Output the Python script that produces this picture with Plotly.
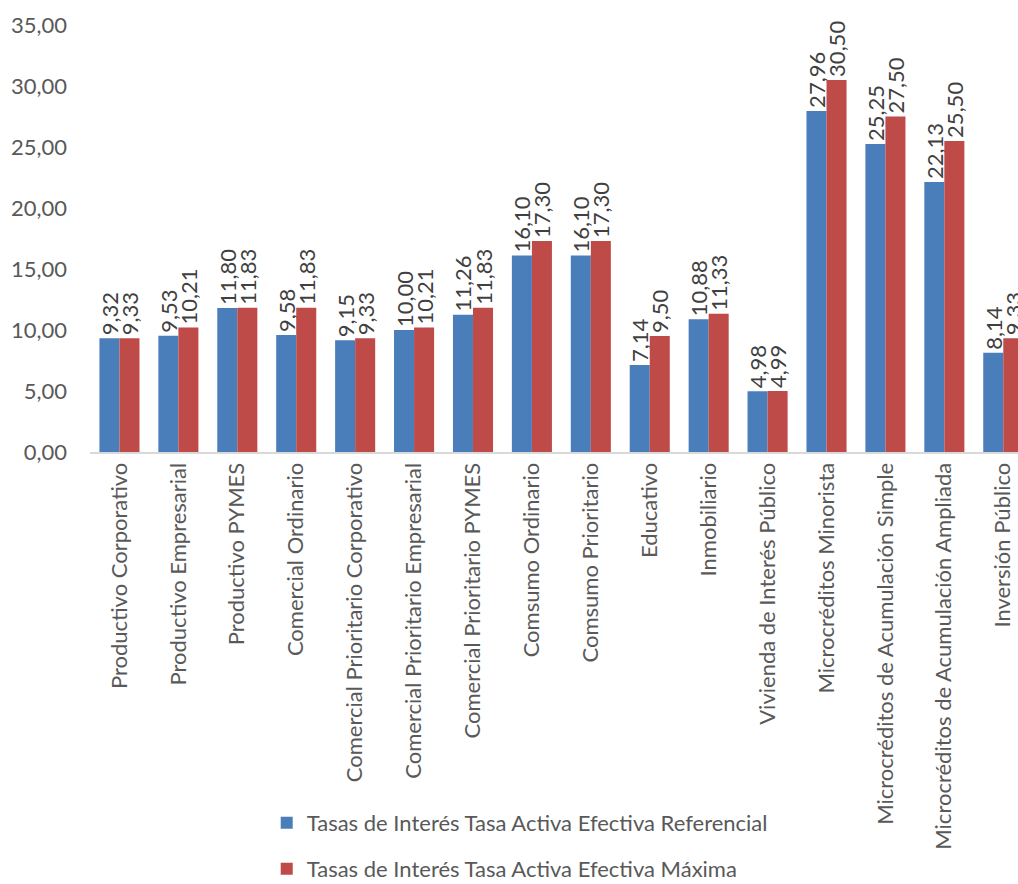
import plotly.graph_objects as go

categories = [
    "Productivo Corporativo", "Productivo Empresarial", "Productivo PYMES",
    "Comercial Ordinario", "Comercial Prioritario Corporativo",
    "Comercial Prioritario Empresarial", "Comercial Prioritario PYMES",
    "Comsumo Ordinario", "Comsumo Prioritario", "Educativo", "Inmobiliario",
    "Vivienda de Interés Público", "Microcréditos Minorista",
    "Microcréditos de Acumulación Simple", "Microcréditos de Acumulación Ampliada",
    "Inversión Público",
]
referencial = [9.32, 9.53, 11.80, 9.58, 9.15, 10.00, 11.26, 16.10, 16.10, 7.14,
               10.88, 4.98, 27.96, 25.25, 22.13, 8.14]
maxima = [9.33, 10.21, 11.83, 11.83, 9.33, 10.21, 11.83, 17.30, 17.30, 9.50,
          11.33, 4.99, 30.50, 27.50, 25.50, 9.33]
series_names = ["Tasas de Interés Tasa Activa Efectiva Referencial",
                "Tasas de Interés Tasa Activa Efectiva Máxima"]
y_ticks = [0, 5, 10, 15, 20, 25, 30, 35]

FONT = "Lato"
TXT = "#595959"
FS = 22


def fmt(v):
    return f"{v:.2f}".replace(".", ",")


fig = go.Figure()
for name, vals, col, leg in [(series_names[0], referencial, "#4a7ebb", "legend"),
                             (series_names[1], maxima, "#be4b48", "legend2")]:
    fig.add_trace(go.Bar(
        x=list(range(len(categories))), y=vals, name=name,
        marker=dict(color=col, line=dict(width=0)),
        text=[fmt(v) for v in vals], textposition="outside", textangle=-90,
        constraintext="none", cliponaxis=False,
        textfont=dict(family=FONT, size=FS, color="#404040"),
        legend=leg,
    ))

leg_common = dict(orientation="v", xref="container", yref="container",
                  x=0.262, xanchor="left", yanchor="middle",
                  font=dict(family=FONT, size=FS, color=TXT), itemwidth=30,
                  bgcolor="rgba(0,0,0,0)")

fig.update_layout(
    width=1018, height=884,
    margin=dict(l=90, r=0, t=25, b=432, autoexpand=False),
    plot_bgcolor="white", paper_bgcolor="white",
    barmode="group", bargap=0.32, bargroupgap=0,
    separators=",.",
    font=dict(family=FONT, size=FS, color=TXT),
    showlegend=True,
    legend=dict(y=0.069, **leg_common),
    legend2=dict(y=0.017, **leg_common),
    xaxis=dict(
        range=[-0.5, 15.25], tickmode="array",
        tickvals=list(range(len(categories))), ticktext=categories,
        tickangle=-90, showgrid=False, showline=True, linecolor="#d9d9d9",
        linewidth=2, ticks="", automargin=False,
        tickfont=dict(family=FONT, size=FS, color=TXT),
    ),
    yaxis=dict(
        range=[0, 35], tickvals=y_ticks, ticktext=[fmt(v) for v in y_ticks],
        showgrid=False, showline=False, zeroline=False, ticks="",
        automargin=False, ticklabelstandoff=22,
        tickfont=dict(family=FONT, size=FS, color=TXT),
    ),
)

fig.write_html("out.html")
